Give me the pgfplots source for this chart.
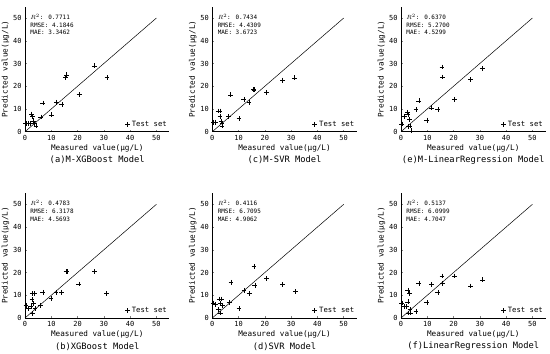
\documentclass[border=0pt]{standalone}
\usepackage{fontspec}
\setmainfont{DejaVu Sans Mono}
\usepackage{pgfplots}
\pgfplotsset{compat=1.18}
\pgfplotsset{
 panel/.style={
  scale only axis, width=144.5bp, height=125bp,
  anchor=origin,
  xmin=0,xmax=55,ymin=0,ymax=55,
  xtick={0,10,...,50}, ytick={0,10,...,50},
  axis x line*=bottom, axis y line*=left,
  axis line style={-, line width=0.6pt},
  tick align=inside, major tick length=2bp,
  tick style={line width=0.5pt},
  tick label style={font=\fontsize{7}{8}\selectfont},
  /pgf/number format/assume math mode=true,
  xlabel={Measured value(μg/L)}, ylabel={Predicted value(μg/L)},
  label style={font=\fontsize{7.7}{9}\selectfont},
  xlabel style={yshift=3bp},
  ylabel style={yshift=-3bp},
  legend style={draw=none, fill=none, font=\fontsize{7.3}{8}\selectfont, at={(axis cs:38,3.3)}, anchor=west, inner sep=0pt},
  legend image code/.code={\draw[##1] plot coordinates {(0bp,0bp)};},
  legend cell align=left,
  clip=false,
 },
 pts/.style={only marks, mark=+, mark size=2.4bp, black, mark options={line width=0.5pt}},
 diag/.style={black, line width=0.5pt, forget plot},
}
\newcommand{\stats}[3]{%
  \node[anchor=west, inner sep=0pt, font=\fontsize{6}{7}\selectfont] at (axis cs:2,50.6) {$R^2$: #1};
  \node[anchor=west, inner sep=0pt, font=\fontsize{6}{7}\selectfont] at (axis cs:2,47.0) {RMSE: #2};
  \node[anchor=west, inner sep=0pt, font=\fontsize{6}{7}\selectfont] at (axis cs:2,43.6) {MAE: #3};
}
\newcommand{\capt}[1]{\node[font=\fontsize{8.8}{10}\selectfont] at (rel axis cs:0.5,0) [yshift=-28.5bp] {#1};}
\begin{document}
\begin{tikzpicture}
\path[use as bounding box] (0,0) rectangle (550bp,354bp);
% (a)
\begin{axis}[panel, at={(25bp,222.3bp)}]
\addplot[diag] coordinates {(0,0) (50,50)};
\addplot[pts] coordinates {(0.3,3.7) (1.2,3.7) (2.0,3.7) (2.5,7.8) (2.9,6.6) (3.3,4.8) (3.7,3.7) (4.2,2.6) (6.0,6.5) (6.8,12.6) (10.0,7.4) (12.0,13.0) (14.0,12.0) (15.5,23.8) (15.8,25.0) (20.6,16.4) (26.5,29.0) (31.2,23.8)};
\addlegendentry{Test set}
\stats{0.7711}{4.1846}{3.3462}
\capt{(a)M-XGBoost Model}
\end{axis}
% (c)
\begin{axis}[panel, at={(212.3bp,222.3bp)}]
\addplot[diag] coordinates {(0,0) (50,50)};
\addplot[pts] coordinates {(0.4,4.1) (1.3,4.1) (2.3,9.1) (2.9,9.1) (2.9,6.6) (3.3,4.7) (3.7,3.7) (3.7,2.5) (6.2,6.6) (7.0,16.2) (10.2,5.8) (12.0,14.3) (14.0,12.9) (15.6,18.6) (15.9,18.4) (20.7,17.4) (26.7,22.7) (31.3,23.7)};
\addlegendentry{Test set}
\stats{0.7434}{4.4309}{3.6723}
\capt{(c)M-SVR Model}
\end{axis}
% (e)
\begin{axis}[panel, at={(401bp,222.3bp)}]
\addplot[diag] coordinates {(0,0) (50,50)};
\addplot[pts] coordinates {(0.3,3.4) (1.3,6.6) (2.4,8.5) (2.6,7.6) (3.2,5.4) (2.8,2.2) (3.4,2.5) (3.8,0.4) (5.7,9.8) (6.8,13.6) (9.8,5.1) (11.7,10.5) (14.0,9.8) (15.6,28.5) (15.8,24.1) (20.4,14.3) (26.5,23.0) (31.1,27.8)};
\addlegendentry{Test set}
\stats{0.6370}{5.2700}{4.5299}
\capt{(e)M-LinearRegression Model}
\end{axis}
% (b)
\begin{axis}[panel, at={(25bp,36bp)}]
\addplot[diag] coordinates {(0,0) (50,50)};
\addplot[pts] coordinates {(0.4,5.6) (1.4,4.1) (2.3,5.1) (2.8,10.7) (3.5,10.7) (2.7,8.1) (3.2,6.3) (2.8,1.9) (3.8,4.1) (5.9,5.6) (6.8,11.3) (9.9,8.5) (11.8,11.3) (13.9,11.3) (15.6,20.4) (15.9,20.4) (20.5,15.0) (26.5,20.4) (31.0,10.7)};
\addlegendentry{Test set}
\stats{0.4783}{6.3178}{4.5693}
\capt{(b)XGBoost Model}
\end{axis}
% (d)
\begin{axis}[panel, at={(212.3bp,36bp)}]
\addplot[diag] coordinates {(0,0) (50,50)};
\addplot[pts] coordinates {(0.4,6.6) (1.3,5.9) (2.3,3.7) (2.7,8.4) (3.4,8.4) (2.9,6.6) (3.2,2.2) (3.8,5.4) (6.4,6.9) (7.1,15.7) (10.2,4.1) (12.1,12.2) (14.1,10.7) (15.9,22.8) (16.2,14.4) (20.7,17.5) (26.7,14.7) (31.6,11.6)};
\addlegendentry{Test set}
\stats{0.4116}{6.7095}{4.9062}
\capt{(d)SVR Model}
\end{axis}
% (f)
\begin{axis}[panel, at={(401bp,36bp)}]
\addplot[diag] coordinates {(0,0) (50,50)};
\addplot[pts] coordinates {(0.3,6.6) (1.3,5.1) (2.0,5.1) (2.6,12.2) (3.3,10.7) (2.6,7.1) (2.8,2.2) (3.7,2.2) (3.4,3.7) (5.7,2.9) (6.8,15.1) (9.8,6.8) (11.7,14.7) (14.0,11.2) (15.6,18.5) (15.8,15.1) (20.4,18.5) (26.5,14.1) (31.1,16.8)};
\addlegendentry{Test set}
\stats{0.5137}{6.0999}{4.7047}
\capt{(f)LinearRegression Model}
\end{axis}
\end{tikzpicture}
\end{document}
